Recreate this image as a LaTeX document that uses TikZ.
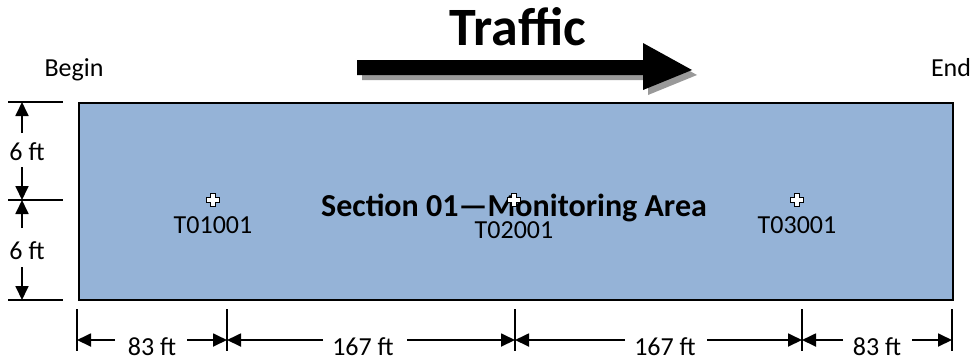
\documentclass[tikz,border=0pt]{standalone}
\usepackage{fontspec}
\setmainfont{Carlito}
\usetikzlibrary{arrows.meta,calc}
\definecolor{areablue}{HTML}{95B3D7}
\tikzset{
  dim/.style={line width=1.8pt,-{Triangle[length=14pt,width=13pt]}},
  tick/.style={line width=1.2pt},
  lbl/.style={font=\fontsize{26}{30}\selectfont,inner sep=0pt,anchor=base},
  marker/.style={fill=white,draw=black,line width=0.9pt},
}
\begin{document}
\begin{tikzpicture}[x=1pt,y=-1pt]
\useasboundingbox (0,0) rectangle (973,360);
% area
\node[draw=black,line width=2.2pt,fill=areablue,minimum width=874pt,minimum height=197pt,inner sep=0pt,anchor=north west] (area) at (78,101.5) {};
% top labels
\node[lbl] (begin) at (74,76) {Begin};
\node[lbl] (end) at (951,76) {End};
\node[font=\bfseries\fontsize{54}{58}\selectfont,inner sep=0pt,anchor=base] (traffic) at (518,45) {Traffic};
% traffic arrow with shadow
\fill[gray!80] (362,65) -- (648,65) -- (648,48) -- (697,75) -- (648,95) -- (648,80) -- (362,80) -- cycle;
\fill[black] (357,60) -- (643,60) -- (643,43) -- (692,70) -- (643,90) -- (643,75) -- (357,75) -- cycle;
% section title
\node[font=\bfseries\fontsize{32}{36}\selectfont,inner sep=0pt,anchor=base] (title) at (514,216) {Section 01---Monitoring Area};
% markers
\coordinate (m1) at (213,200);
\coordinate (m2) at (514,200);
\coordinate (m3) at (797,200);
\foreach \m in {m1,m2,m3}{
  \draw[marker] ($(\m)+(-2.6,-6.5)$) -- ++(5.2,0) -- ++(0,4) -- ++(4,0) -- ++(0,5) -- ++(-4,0) -- ++(0,4) -- ++(-5.2,0) -- ++(0,-4) -- ++(-4,0) -- ++(0,-5) -- ++(4,0) -- cycle;
}
\node[lbl] (s1) at (213,233) {T01001};
\node[lbl] (s2) at (514,238) {T02001};
\node[lbl] (s3) at (797,233) {T03001};
% left dimension
\coordinate (h1) at (22,102);
\coordinate (h2) at (22,200);
\coordinate (h3) at (22,300);
\draw[tick] (8,102) -- (63,102);
\draw[tick] (8,200) -- (63,200);
\draw[tick] (8,300) -- (63,300);
\node[lbl] (v1) at (27,160) {6 ft};
\node[lbl] (v2) at (27,259) {6 ft};
\draw[dim] (22,133) -- (h1);
\draw[dim] (22,167) -- (h2);
\draw[dim] (22,228) -- (h2);
\draw[dim] (22,267) -- (h3);
% bottom dimension
\foreach \x/\n in {77/t1,227/t2,515/t3,802/t4,952/t5}{
  \coordinate (\n) at (\x,340);
  \draw[tick] (\x,309) -- (\x,351);
}
\node[lbl] (b1) at (152,355) {83 ft};
\node[lbl] (b2) at (363,355) {167 ft};
\node[lbl] (b3) at (665,355) {167 ft};
\node[lbl] (b4) at (877,355) {83 ft};
\draw[dim] (115,340) -- (t1);
\draw[dim] (187,340) -- (t2);
\draw[dim] (323,340) -- (t2);
\draw[dim] (407,340) -- (t3);
\draw[dim] (625,340) -- (t3);
\draw[dim] (707,340) -- (t4);
\draw[dim] (843,340) -- (t4);
\draw[dim] (912,340) -- (t5);
\end{tikzpicture}
\end{document}
